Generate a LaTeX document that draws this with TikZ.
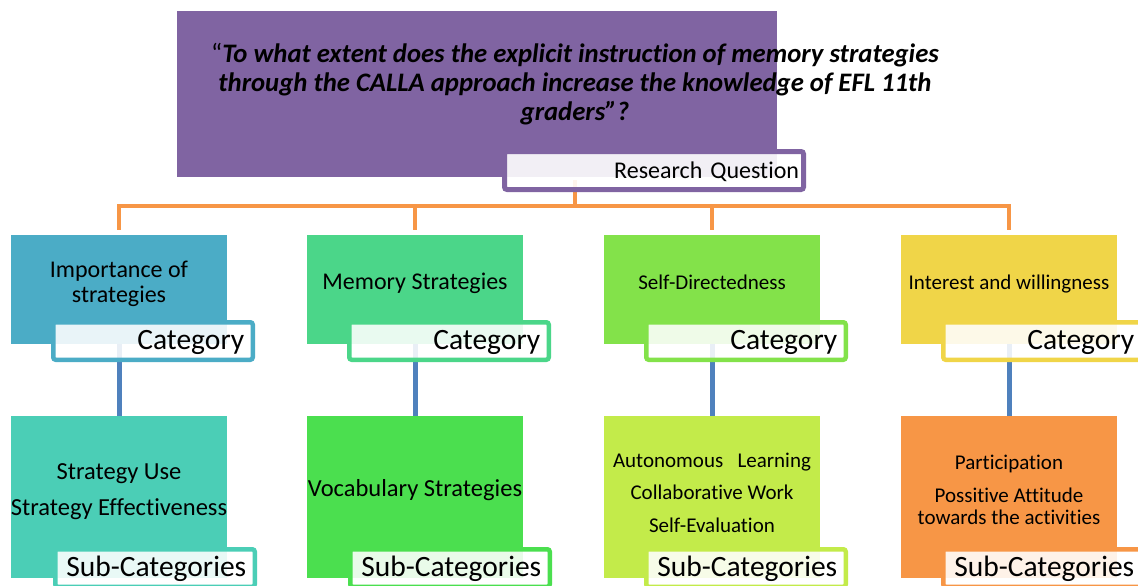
\documentclass[tikz,border=0pt]{standalone}
\usepackage{fontspec}
\setmainfont[Ligatures={NoCommon}]{Carlito}
\definecolor{purp}{HTML}{8064A2}
\definecolor{oline}{HTML}{F79646}
\definecolor{bline}{HTML}{4F81BD}
\definecolor{ca}{HTML}{4BACC6}
\definecolor{cb}{HTML}{4BD689}
\definecolor{cc}{HTML}{83E24A}
\definecolor{cd}{HTML}{F0D548}
\definecolor{sa}{HTML}{4BCEB6}
\definecolor{sb}{HTML}{4BDF4F}
\definecolor{sc}{HTML}{C3EB4A}
\definecolor{sd}{HTML}{F79646}
\begin{document}
\begin{tikzpicture}[x=1pt,y=-1pt,
  catbox/.style={inner sep=0pt, minimum width=216pt, minimum height=109pt},
  subbox/.style={inner sep=0pt, minimum width=216pt, minimum height=162pt},
  tag/.style={draw, line width=4.5pt, rounded corners=2.5pt, fill=white, fill opacity=0.88, text opacity=1,
    minimum width=199.5pt, minimum height=37.5pt, text width=182.5pt, inner xsep=8.5pt, inner ysep=0pt,
    align=right, text height=16pt, text depth=0pt, font=\fontsize{29.5}{31}\selectfont},
  rqtag/.style={draw=purp, line width=5pt, rounded corners=2.5pt, fill=white, fill opacity=0.9, text opacity=1,
    minimum width=299pt, minimum height=38pt, text width=290pt, inner xsep=4.5pt, inner ysep=0pt,
    align=right, text height=15pt, text depth=0pt, font=\fontsize{24}{26}\selectfont},
  qtext/.style={anchor=base, inner sep=0pt, font=\fontsize{26.7}{30}\selectfont\bfseries\itshape},
  lbig/.style={anchor=base, inner sep=0pt, font=\fontsize{24}{27}\selectfont},
  lsub/.style={anchor=base, inner sep=0pt, font=\fontsize{24.5}{27}\selectfont},
  lsmall/.style={anchor=base, inner sep=0pt, font=\fontsize{21}{24}\selectfont},
  orangeline/.style={draw=oline, line width=4.5pt},
  blueline/.style={draw=bline, line width=5pt}
]
\useasboundingbox (0,0) rectangle (1138,586);
\fill[white] (0,0) rectangle (1138,586);
\clip (0,0) rectangle (1138,586);

% top box
\node[fill=purp, inner sep=0pt, minimum width=600pt, minimum height=166pt] (top) at (477,94) {};
\node[qtext] (q1) at (575,63) {{\normalfont “}To what extent does the explicit instruction of memory strategies};
\node[qtext] (q2) at (575,92) {through the CALLA approach increase the knowledge of EFL 11th};
\node[qtext] (q3) at (575,121) {graders”?};

% orange connectors
\coordinate (hub) at (575,206);
\draw[orangeline] (575,180) -- (hub);

% category boxes
\node[catbox, fill=ca] (b1) at (119,289.5) {};
\node[catbox, fill=cb] (b2) at (415,289.5) {};
\node[catbox, fill=cc] (b3) at (712,289.5) {};
\node[catbox, fill=cd] (b4) at (1009,289.5) {};

\foreach \b in {b1,b2,b3,b4}{
  \draw[orangeline, shorten >=5pt] (hub) -| (\b.north);
}

% research question tag
\node[rqtag] (rq) at (654,170.5) {Research Question};

% sub boxes
\node[subbox, fill=sa] (s1) at (119,497) {};
\node[subbox, fill=sb] (s2) at (415,497) {};
\node[subbox, fill=sc] (s3) at (712,497) {};
\node[subbox, fill=sd] (s4) at (1009,497) {};

% blue connectors
\draw[blueline] (b1.south) -- (s1.north);
\draw[blueline] (b2.south) -- (s2.north);
\draw[blueline] (b3.south) -- (s3.north);
\draw[blueline] (b4.south) -- (s4.north);

% category texts
\node[lbig] (t1a) at (119,277) {Importance of};
\node[lbig] (t1b) at (119,302) {strategies};
\node[lbig] (t2) at (415,289) {Memory Strategies};
\node[lsmall] (t3) at (712,289) {Self-Directedness};
\node[lsmall] (t4) at (1009,289) {Interest and willingness};

% sub texts
\node[lsub] (u1a) at (119,479) {Strategy Use};
\node[lsub] (u1b) at (119,515) {Strategy Effectiveness};
\node[lsub] (u2) at (415,496) {Vocabulary Strategies};
\node[lsmall] (u3a) at (712,467) {Autonomous\ \ \ Learning};
\node[lsmall] (u3b) at (712,499) {Collaborative Work};
\node[lsmall] (u3c) at (712,532) {Self-Evaluation};
\node[lsmall] (u4a) at (1009,469) {Participation};
\node[lsmall] (u4b) at (1009,502) {Possitive Attitude};
\node[lsmall] (u4c) at (1009,524) {towards the activities};

% category tags
\node[tag, draw=ca] (c1) at (153,341) {Category};
\node[tag, draw=cb] (c2) at (449,341) {Category};
\node[tag, draw=cc] (c3) at (746,341) {Category};
\node[tag, draw=cd] (c4) at (1043,341) {Category};

% sub-category tags
\node[tag, draw=sa] (d1) at (155,568) {Sub-Categories};
\node[tag, draw=sb] (d2) at (450,568) {Sub-Categories};
\node[tag, draw=sc] (d3) at (746,568) {Sub-Categories};
\node[tag, draw=sd] (d4) at (1043,568) {Sub-Categories};
\end{tikzpicture}
\end{document}
